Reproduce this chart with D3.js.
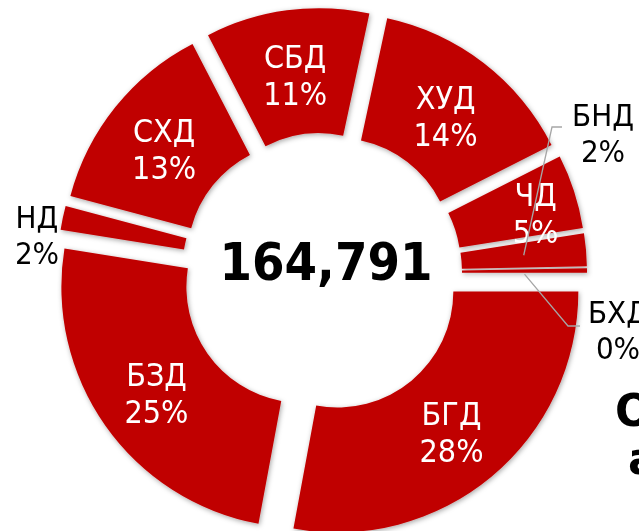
<!DOCTYPE html>
<html>
<head>
<meta charset="utf-8">
<script src="https://cdn.jsdelivr.net/npm/d3@7"></script>
<style>
  body { margin: 0; background: #fff; }
  svg { display: block; }
</style>
</head>
<body>
<div class="donut-chart"></div>
<script>
// data (shares in %)
const categories = ["БГД", "БЗД", "НД", "СХД", "СБД", "ХУД", "ЧД", "БНД", "БХД"]
const shares = [28.0, 24.7, 1.6, 13.3, 11.0, 14.2, 5.0, 2.2, 0.3]
const totalLabel = "164,791"
const outsideCats = ["НД", "БНД", "БХД"]
const sideWords = ["О", "а"]

const data = categories.map((name, i) => ({ name, value: shares[i] }))
const total = d3.sum(shares)

const dims = { width: 639, height: 531 }
const center = { x: 322, y: 273 }
const rOuter = 241, rInner = 116, explode = 24
const labelFont = "'DejaVu Sans Condensed', 'DejaVu Sans', sans-serif"

const svg = d3.select('.donut-chart')
  .append('svg')
  .attr('width', dims.width)
  .attr('height', dims.height)

// soft shadow like the office chart
const filter = svg.append('defs').append('filter')
  .attr('id', 'shadow')
  .attr('x', '-20%').attr('y', '-20%')
  .attr('width', '140%').attr('height', '140%')
filter.append('feDropShadow')
  .attr('dx', 1).attr('dy', 1.5)
  .attr('stdDeviation', 2.5)
  .attr('flood-color', '#000')
  .attr('flood-opacity', 0.35)

const graph = svg.append('g')
  .attr('transform', `translate(${center.x}, ${center.y})`)

const pie = d3.pie()
  .sort(null)
  .value(d => d.value)
  .startAngle(Math.PI / 2)
  .endAngle(Math.PI / 2 + 2 * Math.PI)

const arcPath = d3.arc()
  .innerRadius(rInner)
  .outerRadius(rOuter)

const arcs = pie(data)

// every slice is pulled out along its middle angle
const shift = d => {
  const a = (d.startAngle + d.endAngle) / 2
  return [explode * Math.sin(a), -explode * Math.cos(a)]
}

const slices = graph.append('g').attr('filter', 'url(#shadow)')
slices.selectAll('path')
  .data(arcs)
  .enter()
  .append('path')
  .attr('d', arcPath)
  .attr('fill', '#c00000')
  .attr('transform', d => `translate(${shift(d)})`)

const pct = d => Math.round(d.data.value / total * 100) + '%'

// labels inside the ring
const inside = arcs.filter(d => !outsideCats.includes(d.data.name))
const inLabels = graph.selectAll('.in-label')
  .data(inside)
  .enter()
  .append('text')
  .attr('class', 'in-label')
  .attr('text-anchor', 'middle')
  .attr('fill', '#fff')
  .style('font-family', labelFont)
  .style('font-size', '32px')
  .attr('transform', d => {
    const c = arcPath.centroid(d), s = shift(d)
    // narrow slice: excel nudges its label outwards
    const narrow = (d.endAngle - d.startAngle) < 0.4
    const k = narrow ? 1.1 : 1
    return `translate(${c[0] * k + s[0] + (narrow ? 4 : 0)}, ${c[1] * k + s[1] + (narrow ? 5 : 0)})`
  })
inLabels.append('tspan').attr('x', 0).attr('y', -4).text(d => d.data.name)
inLabels.append('tspan').attr('x', 0).attr('y', 33).text(pct)

// labels outside, some with leader lines
const outPos = {
  "НД":  { x: 37 - center.x,  y: 232 - center.y, lead: null },
  "БНД": { x: 603 - center.x, y: 130 - center.y, lead: [[562, 127], [552, 127]] },
  "БХД": { x: 618 - center.x, y: 327 - center.y, lead: [[580, 326], [568, 326]] }
}
const outside = arcs.filter(d => outsideCats.includes(d.data.name))

outside.filter(d => outPos[d.data.name].lead).forEach(d => {
  const c = arcPath.centroid(d), s = shift(d)
  const pts = outPos[d.data.name].lead.map(p => [p[0] - center.x, p[1] - center.y])
  pts.push([c[0] + s[0], c[1] + s[1] + (d.data.name === "БХД" ? 3 : 0)])
  graph.append('path')
    .attr('d', d3.line()(pts))
    .attr('fill', 'none')
    .attr('stroke', '#a6a6a6')
    .attr('stroke-width', 1.3)
})

const outLabels = graph.selectAll('.out-label')
  .data(outside)
  .enter()
  .append('text')
  .attr('class', 'out-label')
  .attr('text-anchor', 'middle')
  .attr('fill', '#000')
  .style('font-family', labelFont)
  .style('font-size', '31px')
  .attr('transform', d => `translate(${outPos[d.data.name].x}, ${outPos[d.data.name].y})`)
outLabels.append('tspan').attr('x', 0).attr('y', -4).text(d => d.data.name)
outLabels.append('tspan').attr('x', 0).attr('y', 32).text(pct)

// total in the hole
svg.append('text')
  .attr('x', 326)
  .attr('y', 280)
  .attr('text-anchor', 'middle')
  .style('font-family', labelFont)
  .style('font-weight', 'bold')
  .style('font-size', '52px')
  .attr('fill', '#000')
  .text(totalLabel)

// bits of the slide title cut off at the right edge
svg.selectAll('.side')
  .data(sideWords)
  .enter()
  .append('text')
  .attr('class', 'side')
  .attr('x', (d, i) => i === 0 ? 615 : 628)
  .attr('y', (d, i) => 426 + i * 48)
  .style('font-family', "'DejaVu Sans', sans-serif")
  .style('font-weight', 'bold')
  .style('font-size', '44px')
  .attr('fill', '#000')
  .text(d => d)
</script>
</body>
</html>
